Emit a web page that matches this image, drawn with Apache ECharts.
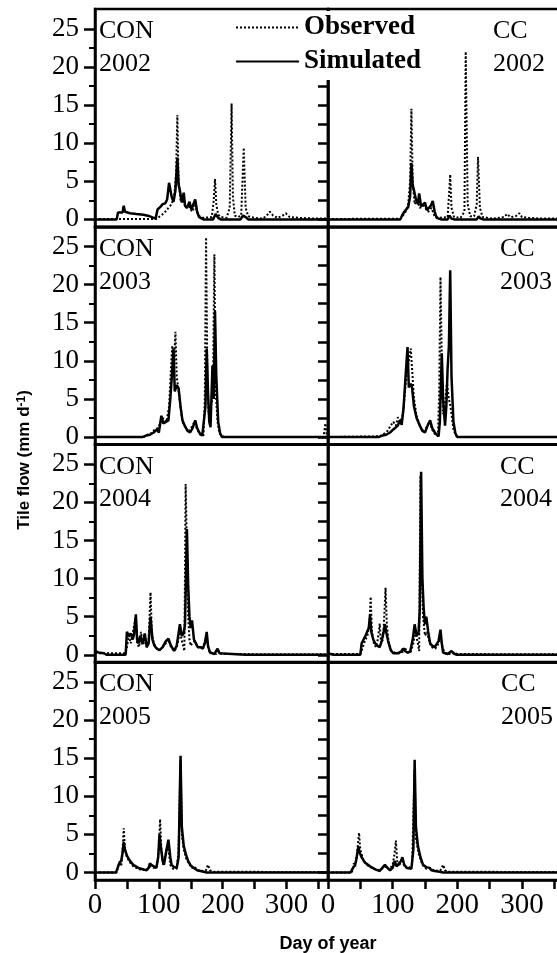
<!DOCTYPE html>
<html>
<head>
<meta charset="utf-8">
<script src="https://cdn.jsdelivr.net/npm/echarts@6.0.0/dist/echarts.min.js"></script>
<style>
  html, body { margin: 0; padding: 0; background: #fff; }
  #chart { width: 557px; height: 953px; }
</style>
</head>
<body>
<div id="chart"></div>
<script>
// panel labels and ticks
const treatments = ['CON', 'CC'];
const years = ['2002', '2003', '2004', '2005'];
const xTicks = [0, 100, 200, 300];
const yTicks = [0, 5, 10, 15, 20, 25];
const yMinorTicks = [2.5, 7.5, 12.5, 17.5, 22.5];

// tile flow, [day of year, mm d-1]
const con2002Sim = [[0,0],[34,0],[36,0.9],[43,0.9],[45,1.8],[47,1.0],[55,0.8],[65,0.7],[76,0.6],[86,0.4],[95,0.1],[97,0],[98,1.3],[102,1.6],[106,2.0],[110,2.1],[113,2.6],[116,4.8],[120,3.0],[123,2.3],[126,3.8],[129,8.1],[131,4.5],[133,3.8],[136,2.2],[139,3.5],[141,1.8],[144,1.5],[148,2.3],[151,1.3],[154,1.1],[157,2.6],[160,1.0],[163,0.3],[170,0],[185,0],[189,0.7],[193,0.2],[197,0],[228,0],[232,0.5],[236,0.3],[240,0],[365,0]];
const con2002Obs = [[0,0.05],[96,0.05],[100,0.3],[105,0.6],[110,1.0],[115,1.5],[120,2.0],[124,3.0],[127,6.0],[129,13.7],[131,5.0],[134,2.5],[138,2.8],[142,1.5],[147,1.8],[152,1.0],[157,1.8],[162,0.5],[168,0.2],[183,0.3],[186,2.5],[188,5.3],[190,2.0],[193,0.6],[198,0.3],[206,0.2],[211,1.5],[214,15.2],[216,3.0],[219,0.5],[224,0.3],[229,0.5],[233,9.4],[236,1.5],[240,0.4],[250,0.2],[262,0.1],[268,0.4],[274,1.0],[279,0.5],[286,0.2],[294,0.5],[299,0.8],[305,0.3],[320,0.2],[345,0.1],[365,0.1]];
const cc2002Sim = [[0,0],[112,0],[115,0.6],[118,1.0],[121,0.8],[124,1.6],[127,3.0],[129,7.4],[131,4.5],[133,3.8],[136,2.6],[139,2.0],[141,3.4],[144,1.7],[147,1.6],[150,2.2],[153,1.2],[156,1.3],[159,1.8],[162,2.4],[165,1.0],[168,0.2],[175,0],[185,0],[188,0.5],[191,0.1],[195,0],[230,0],[233,0.4],[236,0.1],[240,0],[365,0]];
const cc2002Obs = [[0,0.05],[112,0.1],[116,0.5],[120,1.0],[124,2.0],[127,5.0],[129,14.5],[131,5.0],[134,2.0],[138,2.5],[142,1.5],[148,1.8],[155,1.0],[160,1.5],[165,0.4],[172,0.2],[185,0.3],[187,3.0],[189,5.9],[191,1.5],[195,0.3],[205,0.2],[211,1.0],[213,22.0],[216,2.0],[220,0.4],[226,0.4],[230,2.0],[232,8.2],[235,1.5],[239,0.3],[255,0.1],[272,0.3],[277,0.7],[282,0.3],[290,0.4],[296,0.8],[300,0.3],[310,0.2],[330,0.1],[365,0.1]];

const con2003Sim = [[0,0],[74,0],[80,0.2],[86,0.3],[92,0.6],[97,1.0],[100,0.6],[104,2.8],[107,1.8],[110,1.6],[115,2.2],[118,5.0],[120,7.5],[123,11.6],[125,6.0],[128,6.8],[131,6.4],[134,4.0],[137,2.2],[141,1.4],[145,0.8],[149,0.6],[153,1.2],[157,2.2],[160,1.2],[164,0.5],[168,0.2],[171,0.1],[173,4.0],[175,11.6],[177,6.0],[179,2.0],[181,1.3],[184,9.4],[186,5.0],[188,16.5],[190,8.0],[193,2.0],[196,0.5],[199,0],[365,0]];
const con2003Obs = [[0,0],[76,0],[82,0.3],[88,0.5],[94,1.0],[99,1.2],[103,2.0],[107,2.5],[112,2.0],[116,4.0],[119,9.0],[121,12.0],[123,8.0],[126,13.8],[128,8.0],[131,6.0],[134,4.0],[137,2.0],[142,1.3],[147,0.7],[152,1.4],[156,2.0],[160,1.0],[165,0.3],[170,0.2],[172,5.0],[174,26.2],[176,8.0],[178,3.0],[181,4.0],[183,4.5],[185,8.0],[187,24.0],[189,6.0],[192,2.0],[195,0.5],[198,0.2],[203,0],[358,0],[361,1.8],[363,0.3],[365,0]];
const cc2003Sim = [[0,0],[78,0],[84,0.2],[90,0.3],[96,0.6],[101,1.0],[104,0.8],[108,1.5],[111,2.2],[114,1.6],[117,4.0],[120,8.0],[123,11.8],[125,6.5],[128,7.0],[130,6.5],[133,4.0],[137,2.5],[142,1.5],[146,0.8],[150,0.6],[154,1.5],[158,2.2],[161,1.2],[166,0.5],[171,0.1],[173,2.0],[176,11.0],[178,5.0],[181,1.5],[183,4.0],[185,9.0],[187,12.0],[189,21.9],[191,8.0],[194,2.0],[197,0.5],[200,0],[365,0]];
const cc2003Obs = [[0,0],[80,0.1],[86,0.4],[92,0.8],[97,1.5],[101,2.0],[105,1.5],[108,2.6],[112,2.0],[116,3.0],[119,6.0],[122,8.5],[125,10.0],[128,11.6],[130,9.0],[133,5.0],[137,2.8],[142,1.5],[147,0.8],[152,1.2],[157,2.0],[161,1.0],[166,0.3],[170,0.2],[172,6.0],[174,21.0],[176,10.0],[178,3.0],[181,4.5],[184,7.0],[187,5.0],[189,4.2],[191,3.0],[194,1.0],[198,0.2],[203,0],[365,0]];

const con2004Sim = [[0,0.5],[5,0.3],[14,0.2],[18,0],[48,0],[50,3.0],[53,2.5],[56,2.8],[59,2.0],[61,2.6],[64,5.3],[66,2.0],[68,1.5],[71,2.5],[74,1.4],[78,2.8],[81,1.0],[84,1.5],[87,5.0],[90,2.0],[93,1.2],[97,0.8],[101,0.6],[106,1.0],[111,1.8],[115,2.1],[119,1.2],[124,0.5],[128,1.2],[133,4.0],[136,2.5],[139,2.8],[141,4.0],[144,16.5],[146,9.0],[148,5.0],[150,3.5],[152,4.5],[155,2.0],[158,1.5],[161,1.0],[165,1.0],[169,0.8],[172,1.5],[175,3.0],[177,1.2],[180,0.3],[187,0.1],[192,0.8],[195,0.2],[198,0],[235,0],[238,0.2],[241,0],[365,0]];
const con2004Obs = [[0,0.2],[48,0.2],[50,1.0],[53,2.5],[56,1.5],[59,2.8],[62,3.0],[64,5.0],[66,1.5],[69,1.0],[72,3.0],[75,1.3],[78,2.0],[81,1.0],[84,2.0],[87,8.2],[89,3.0],[92,1.5],[97,0.8],[101,0.6],[106,1.0],[111,1.5],[115,2.0],[119,1.0],[124,0.5],[128,1.0],[133,3.0],[137,1.5],[140,0.5],[142,22.4],[144,14.0],[146,5.0],[148,2.0],[150,1.2],[152,1.5],[156,1.8],[160,1.2],[165,0.8],[172,1.5],[175,2.5],[177,1.0],[180,0.3],[190,0.1],[194,0.5],[198,0.1],[365,0.05]];
const cc2004Sim = [[0,0.2],[3,0.1],[8,0],[50,0],[52,1.5],[55,2.0],[58,2.5],[61,2.6],[63,3.5],[65,5.2],[67,3.0],[70,2.0],[73,1.5],[76,1.2],[80,1.0],[83,1.8],[86,3.0],[88,4.0],[90,3.0],[93,1.8],[97,0.6],[101,0.2],[108,0.2],[113,0.4],[116,0.8],[119,0.5],[123,0.3],[127,0.4],[131,2.0],[134,4.0],[137,2.5],[140,2.8],[142,6.0],[144,24.0],[146,10.0],[148,6.0],[150,4.0],[152,5.0],[155,3.0],[158,1.5],[161,1.2],[165,1.0],[168,1.0],[171,1.8],[174,3.3],[176,1.5],[178,0.3],[185,0.1],[191,0.5],[194,0.2],[199,0],[236,0],[238,0.2],[240,0],[365,0]];
const cc2004Obs = [[0,0.1],[50,0.1],[53,0.8],[57,1.8],[61,2.5],[64,4.0],[66,7.6],[68,3.0],[71,1.5],[74,1.0],[77,2.0],[80,4.1],[82,1.5],[85,2.0],[87,5.0],[89,8.8],[91,4.0],[94,1.5],[98,0.6],[103,0.3],[110,0.2],[116,0.4],[119,1.0],[122,0.3],[128,0.4],[132,1.5],[135,3.0],[139,1.5],[141,0.5],[143,23.5],[145,12.0],[147,5.0],[150,2.5],[153,3.0],[156,2.0],[160,1.0],[166,0.8],[171,1.5],[174,2.5],[177,1.0],[181,0.2],[190,0.1],[195,0.3],[200,0.1],[365,0.05]];

const con2005Sim = [[0,0],[33,0],[35,0.5],[38,1.2],[41,1.5],[43,2.5],[45,4.0],[47,3.0],[50,2.2],[55,1.5],[60,1.0],[68,0.6],[76,0.4],[81,0.3],[84,0.6],[86,1.2],[90,0.9],[96,0.6],[99,2.0],[101,5.0],[103,3.5],[106,1.5],[108,1.0],[111,2.5],[115,4.3],[118,2.0],[120,1.0],[124,0.7],[128,0.6],[131,2.0],[134,15.3],[136,6.0],[139,3.5],[142,2.5],[146,1.5],[150,0.9],[155,0.6],[157,0.7],[160,0.3],[165,0.2],[170,0.1],[175,0],[365,0]];
const con2005Obs = [[0,0],[34,0],[37,1.0],[39,1.5],[41,0.8],[43,2.5],[45,5.8],[47,3.0],[50,2.0],[55,1.3],[60,0.8],[70,0.4],[80,0.3],[86,0.8],[92,0.6],[97,0.8],[100,3.0],[102,7.0],[104,3.0],[107,1.0],[110,2.0],[113,3.5],[115,3.0],[118,1.0],[122,0.5],[128,0.5],[131,3.0],[134,14.8],[136,5.0],[139,3.0],[143,1.8],[147,1.2],[152,0.6],[156,0.8],[160,0.3],[170,0.2],[174,0.3],[177,1.0],[180,0.3],[183,0.5],[186,0.1],[365,0.05]];
const cc2005Sim = [[0,0],[35,0],[38,0.5],[42,1.0],[44,1.8],[47,3.4],[49,2.6],[52,2.0],[57,1.3],[65,0.8],[73,0.4],[80,0.2],[84,0.6],[88,1.0],[92,0.6],[96,0.3],[100,0.6],[103,1.5],[106,0.8],[109,0.8],[113,1.5],[115,2.0],[118,1.0],[122,0.6],[129,0.5],[132,3.0],[134,14.8],[136,6.0],[139,3.5],[143,2.0],[147,1.0],[152,0.7],[157,0.6],[160,0.3],[165,0.2],[173,0.1],[178,0],[365,0]];
const cc2005Obs = [[0,0],[37,0],[40,1.2],[42,0.8],[45,2.5],[48,5.2],[50,3.0],[54,1.8],[60,1.0],[70,0.5],[80,0.3],[88,0.8],[95,0.4],[100,1.0],[103,2.5],[105,4.2],[107,1.5],[110,0.8],[114,1.8],[118,0.8],[124,0.5],[130,1.0],[134,13.5],[136,4.5],[140,2.5],[146,1.0],[152,0.5],[158,0.6],[165,0.2],[174,0.3],[178,1.0],[181,0.3],[185,0.1],[365,0.05]];

const panels = [
  { sim: con2002Sim, obs: con2002Obs }, { sim: cc2002Sim, obs: cc2002Obs },
  { sim: con2003Sim, obs: con2003Obs }, { sim: cc2003Sim, obs: cc2003Obs },
  { sim: con2004Sim, obs: con2004Obs }, { sim: cc2004Sim, obs: cc2004Obs },
  { sim: con2005Sim, obs: con2005Obs }, { sim: cc2005Sim, obs: cc2005Obs }
];

const serif = "'Liberation Serif', 'Times New Roman', serif";
const sans = "'Liberation Sans', Arial, sans-serif";

const colLeft = [95, 328];
const colWidth = [233, 236];
const rowTop = [9, 226.7, 444.4, 662.1];
const rowHeight = 218;
const ccX = [493, 500, 500, 501];

const grid = [], xAxis = [], yAxis = [], series = [], graphic = [];

panels.forEach(function (p, g) {
  const row = Math.floor(g / 2), col = g % 2;
  const bottomRow = row === 3;
  grid.push({
    left: colLeft[col], top: rowTop[row], width: colWidth[col], height: rowHeight,
    show: true, borderColor: '#000', borderWidth: 2.5, backgroundColor: 'transparent',
    containLabel: false, outerBoundsMode: 'none'
  });
  xAxis.push({
    type: 'value', gridIndex: g, min: 0, max: 365, interval: 50,
    axisLine: { show: true, onZero: false, lineStyle: { color: '#000', width: 2.5 } },
    axisTick: { show: bottomRow, length: 9, lineStyle: { color: '#000', width: 2.5 } },
    axisLabel: {
      show: bottomRow, margin: 11, color: '#000', fontFamily: serif, fontSize: 29,
      formatter: function (v) { return xTicks.indexOf(v) >= 0 ? String(v) : ''; }
    },
    splitLine: { show: false }
  });
  const mainIdx = yAxis.length;
  if (col === 0) {
    yAxis.push({
      type: 'value', gridIndex: g, position: 'left', min: -1, max: 27.6,
      axisLine: { show: true, lineStyle: { color: '#000', width: 2.5 } },
      axisTick: { show: true, length: 11, customValues: yTicks, lineStyle: { color: '#000', width: 2.5 } },
      axisLabel: { show: true, margin: 16, customValues: yTicks, color: '#000', fontFamily: serif, fontSize: 27 },
      splitLine: { show: false }
    });
    // minor ticks: second axis sits on the right, shifted back onto the left edge
    yAxis.push({
      type: 'value', gridIndex: g, position: 'right', offset: -colWidth[col], min: -1, max: 27.6,
      axisLine: { show: false },
      axisTick: { show: true, inside: true, length: 6, customValues: yMinorTicks, lineStyle: { color: '#000', width: 2 } },
      axisLabel: { show: false },
      splitLine: { show: false }
    });
  } else {
    yAxis.push({
      type: 'value', gridIndex: g, position: 'right', min: -1, max: 27.6,
      axisLine: { show: true, lineStyle: { color: '#000', width: 2.5 } },
      axisTick: { show: true, inside: true, length: 10, customValues: yTicks.concat(yMinorTicks), lineStyle: { color: '#000', width: 2.5 } },
      axisLabel: { show: false },
      splitLine: { show: false }
    });
  }
  series.push({
    name: 'Simulated', type: 'line', xAxisIndex: g, yAxisIndex: mainIdx,
    data: p.sim, symbol: 'none', silent: true, z: 3,
    lineStyle: { color: '#000', width: 2.5, type: 'solid' }, itemStyle: { color: '#000' }
  });
  series.push({
    name: 'Observed', type: 'line', xAxisIndex: g, yAxisIndex: mainIdx,
    data: p.obs, symbol: 'none', silent: true, z: 4,
    lineStyle: { color: '#000', width: 2, type: [2, 2] }, itemStyle: { color: '#000' }
  });

  const tx = col === 0 ? 99 : ccX[row];
  graphic.push({
    type: 'text', x: tx, y: rowTop[row] + 22.5, z: 10,
    style: { text: treatments[col], fill: '#000', fontFamily: serif, fontSize: 26, verticalAlign: 'middle', align: 'left' }
  });
  graphic.push({
    type: 'text', x: tx, y: rowTop[row] + 55, z: 10,
    style: { text: years[row], fill: '#000', fontFamily: serif, fontSize: 26, verticalAlign: 'middle', align: 'left' }
  });
});

graphic.push({
  type: 'text', x: 328, y: 944, z: 10,
  style: { text: 'Day of year', fill: '#000', fontFamily: sans, fontWeight: 'bold', fontSize: 18, align: 'center', verticalAlign: 'middle' }
});
graphic.push({
  type: 'text', x: 24, y: 460, rotation: Math.PI / 2, z: 10,
  style: {
    text: 'Tile flow (mm d{sup|-1})', fill: '#000', fontFamily: sans, fontWeight: 'bold', fontSize: 17,
    align: 'center', verticalAlign: 'middle',
    rich: { sup: { fontFamily: sans, fontWeight: 'bold', fontSize: 12, verticalAlign: 'top', fill: '#000' } }
  }
});

const chart = echarts.init(document.getElementById('chart'));
chart.setOption({
  animation: false,
  backgroundColor: '#fff',
  legend: {
    data: ['Observed', 'Simulated'],
    orient: 'vertical', left: 235, top: 11,
    itemWidth: 63, itemHeight: 20, itemGap: 7,
    padding: [3, 8, 5, 0],
    backgroundColor: '#fff', selectedMode: false,
    itemStyle: { opacity: 0 },
    textStyle: { fontFamily: serif, fontSize: 27, fontWeight: 'bold', color: '#000', lineHeight: 26 }
  },
  grid: grid,
  xAxis: xAxis,
  yAxis: yAxis,
  series: series,
  graphic: graphic
});
</script>
</body>
</html>
